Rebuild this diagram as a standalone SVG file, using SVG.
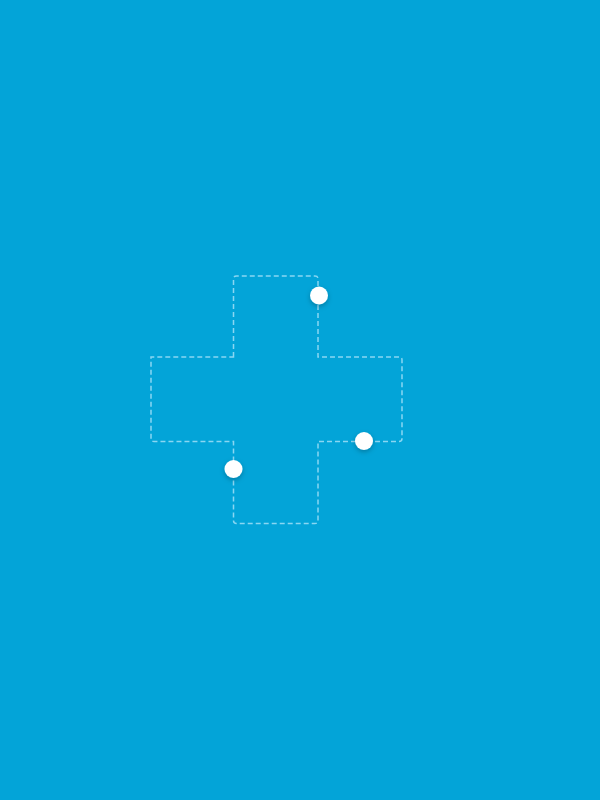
<svg xmlns="http://www.w3.org/2000/svg" width="600" height="800" viewBox="0 0 600 800">
<defs>
<filter id="sh" x="-50%" y="-50%" width="200%" height="200%">
<feDropShadow dx="0" dy="2" stdDeviation="2.5" flood-color="#000" flood-opacity="0.25"/>
</filter>
<style>
.track{fill:none;stroke:#8ad6f2;stroke-width:1.5;stroke-dasharray:5 3}
.dot{fill:#fff;filter:url(#sh)}
</style>
</defs>
<rect width="600" height="800" fill="#03a4d8"/>
<g id="connectors">
<path class="track" d="M233.5,357 V279 Q233.5,276 236.5,276 H315 Q318,276 318,279 V357 H399 Q402,357 402,360 V438.5 Q402,441.5 399,441.5 H318 V520.5 Q318,523.5 315,523.5 H236.5 Q233.5,523.5 233.5,520.5 V441.5 H154 Q151,441.5 151,438.5 V357 Z"/>
</g>
<g id="dot1"><circle class="dot" cx="319" cy="295.5" r="9"/></g>
<g id="dot2"><circle class="dot" cx="364" cy="441" r="9"/></g>
<g id="dot3"><circle class="dot" cx="233.5" cy="469" r="9"/></g>
</svg>
